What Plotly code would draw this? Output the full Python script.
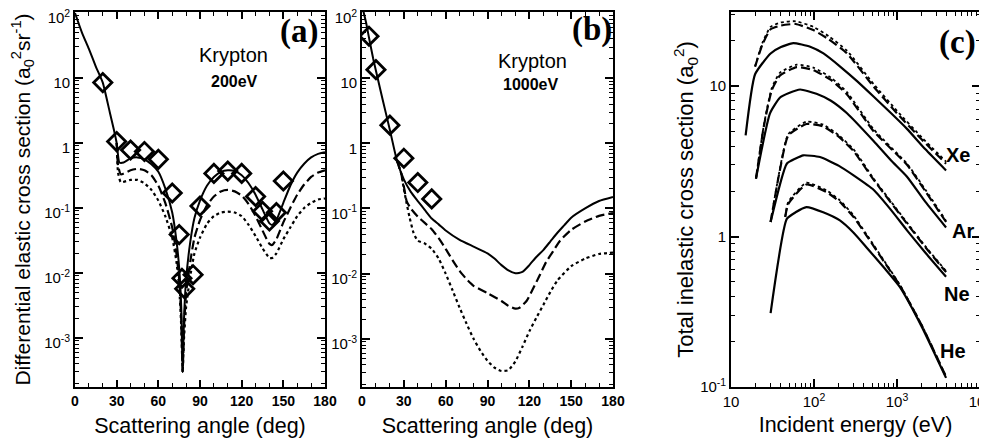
import plotly.graph_objects as go

# ---------------- Panel (a): Krypton, 200 eV ----------------
a_solid_ang = [0, 5, 10, 15, 20, 25, 28, 30, 32, 35, 40, 45, 50, 55, 60, 65, 70, 73, 75, 76.5, 77.5, 78.5, 80, 83, 86, 90, 95, 100, 105, 110, 115, 120, 125, 130, 135, 140, 142, 145, 150, 155, 160, 165, 170, 175, 180]
a_solid_val = [100, 50, 28, 15, 8.5, 3.0, 1.6, 1.0, 0.5, 0.5, 0.58, 0.6, 0.56, 0.47, 0.36, 0.2, 0.085, 0.032, 0.012, 0.003, 0.0003, 0.002, 0.008, 0.03, 0.07, 0.13, 0.22, 0.3, 0.36, 0.38, 0.37, 0.32, 0.24, 0.16, 0.095, 0.058, 0.055, 0.065, 0.12, 0.22, 0.35, 0.48, 0.6, 0.68, 0.72]

a_dash_ang = [30, 31, 33, 40, 45, 50, 55, 60, 65, 70, 73, 75, 76.5, 77.5, 78.5, 80, 83, 86, 90, 95, 100, 105, 110, 115, 120, 125, 130, 135, 140, 142, 145, 150, 155, 160, 165, 170, 175, 180]
a_dash_val = [1.0, 0.45, 0.33, 0.38, 0.4, 0.38, 0.32, 0.22, 0.12, 0.05, 0.02, 0.008, 0.002, 0.0003, 0.0015, 0.005, 0.015, 0.035, 0.065, 0.11, 0.15, 0.18, 0.19, 0.18, 0.155, 0.115, 0.075, 0.045, 0.028, 0.027, 0.033, 0.06, 0.1, 0.16, 0.23, 0.3, 0.35, 0.38]

a_dot_ang = [30, 31, 33, 40, 45, 50, 55, 60, 65, 70, 73, 75, 76.5, 77.5, 78.5, 80, 83, 86, 90, 95, 100, 105, 110, 115, 120, 125, 130, 135, 140, 142, 145, 150, 155, 160, 165, 170, 175, 180]
a_dot_val = [1.0, 0.35, 0.25, 0.27, 0.27, 0.24, 0.19, 0.13, 0.075, 0.035, 0.015, 0.006, 0.0015, 0.0003, 0.001, 0.003, 0.009, 0.02, 0.035, 0.057, 0.075, 0.085, 0.088, 0.085, 0.075, 0.055, 0.037, 0.024, 0.017, 0.017, 0.02, 0.033, 0.05, 0.075, 0.1, 0.12, 0.135, 0.14]

a_exp_ang = [20, 30, 40, 50, 60, 70, 75, 77, 79, 85, 90, 100, 110, 120, 130, 135, 140, 145, 150]
a_exp_val = [8.5, 1.05, 0.78, 0.74, 0.56, 0.17, 0.039, 0.0083, 0.0057, 0.0094, 0.107, 0.34, 0.37, 0.34, 0.15, 0.089, 0.063, 0.085, 0.26]

# ---------------- Panel (b): Krypton, 1000 eV ----------------
b_solid_ang = [0, 3, 5, 8, 10, 15, 20, 25, 30, 35, 40, 45, 50, 55, 60, 70, 80, 90, 95, 100, 105, 110, 115, 120, 125, 130, 135, 140, 145, 150, 160, 170, 180]
b_solid_val = [130, 70, 42, 20, 13, 4.5, 1.6, 0.55, 0.28, 0.18, 0.13, 0.095, 0.07, 0.057, 0.046, 0.033, 0.026, 0.0205, 0.017, 0.0135, 0.0112, 0.0101, 0.0106, 0.0135, 0.018, 0.023, 0.031, 0.042, 0.055, 0.072, 0.1, 0.13, 0.15]

b_dash_ang = [25, 28, 30, 32, 35, 40, 45, 50, 55, 60, 65, 70, 75, 80, 90, 100, 105, 110, 113, 118, 122, 127, 132, 137, 142, 150, 160, 170, 180]
b_dash_val = [0.55, 0.35, 0.22, 0.13, 0.1, 0.075, 0.06, 0.048, 0.035, 0.024, 0.016, 0.011, 0.0082, 0.0065, 0.005, 0.0038, 0.0032, 0.0029, 0.003, 0.0038, 0.0055, 0.009, 0.015, 0.022, 0.032, 0.047, 0.063, 0.077, 0.085]

b_dot_ang = [25, 28, 30, 32, 34, 37, 40, 45, 50, 55, 60, 65, 70, 75, 80, 85, 90, 95, 100, 105, 110, 115, 120, 125, 130, 135, 140, 150, 160, 170, 180]
b_dot_val = [0.55, 0.35, 0.2, 0.12, 0.075, 0.042, 0.032, 0.029, 0.024, 0.017, 0.01, 0.0055, 0.003, 0.0017, 0.001, 0.00065, 0.00046, 0.00036, 0.00032, 0.00033, 0.00045, 0.00075, 0.0013, 0.0021, 0.0033, 0.0052, 0.0078, 0.013, 0.017, 0.02, 0.021]

b_exp_ang = [5, 10, 20, 30, 40, 50]
b_exp_val = [44, 13.5, 1.9, 0.59, 0.25, 0.14]

# ---------------- Panel (c): total inelastic cross sections ----------------
xe_solid_E = [15, 19.5, 30, 40, 56, 90, 130, 210, 330, 525, 850, 1320, 2200, 3900]
xe_solid_v = [4.7, 12, 16.5, 18.2, 19.3, 18.3, 16.5, 13.4, 10.8, 8.5, 6.6, 5.2, 3.8, 2.75]
xe_dash_E = [19.5, 24, 30, 40, 60, 98, 150, 250, 525, 1000, 2000, 3900]
xe_dash_v = [13.5, 19, 23.9, 25.3, 25.9, 23.6, 20.5, 16.5, 9.9, 6.6, 4.4, 3.05]
xe_dot_v = [13.5, 19.5, 24.8, 26.5, 27, 24.8, 21.5, 17.2, 10.3, 6.85, 4.55, 3.15]

ar_solid_E = [20, 29.5, 39, 50, 68, 107, 160, 250, 525, 850, 1320, 2200, 3900]
ar_solid_v = [2.43, 6.6, 8.4, 9.0, 9.5, 8.9, 8.0, 6.6, 4.3, 3.2, 2.5, 1.7, 1.15]
ar_dash_E = [20, 25, 31, 39, 62, 98, 160, 250, 525, 1320, 2200, 3900]
ar_dash_v = [2.43, 5.5, 9.4, 11.8, 13.4, 12.8, 11.0, 8.8, 5.0, 3.0, 2.0, 1.25]
ar_dot_v = [2.43, 5.6, 9.7, 12.3, 13.9, 13.3, 11.4, 9.1, 5.15, 3.05, 2.05, 1.27]

ne_solid_E = [30, 47, 60, 74, 118, 200, 300, 525, 850, 1320, 2200, 3900]
ne_solid_v = [1.25, 3.05, 3.3, 3.47, 3.38, 2.95, 2.55, 2.04, 1.5, 1.1, 0.78, 0.54]
ne_dash_E = [30, 38, 49, 81, 129, 200, 300, 525, 1320, 2200, 3900]
ne_dash_v = [1.25, 2.6, 4.7, 5.6, 5.4, 4.6, 3.7, 2.38, 1.22, 0.85, 0.58]
ne_dot_v = [1.25, 2.65, 4.8, 5.8, 5.55, 4.7, 3.8, 2.42, 1.24, 0.86, 0.59]

he_solid_E = [30, 47, 60, 81, 129, 205, 300, 427, 700, 1090, 2000, 3900]
he_solid_v = [0.31, 1.31, 1.45, 1.57, 1.45, 1.28, 1.06, 0.85, 0.62, 0.46, 0.25, 0.115]
he_dash_E = [45, 49, 81, 141, 205, 300, 427, 700, 1090, 2000, 3900]
he_dash_v = [1.35, 1.65, 2.22, 1.98, 1.7, 1.35, 1.02, 0.68, 0.47, 0.255, 0.117]
he_dot_v = [1.35, 1.7, 2.28, 2.03, 1.74, 1.38, 1.04, 0.69, 0.475, 0.256, 0.117]

# tick labels
dec_vals = [1e-3, 1e-2, 1e-1, 1, 10, 100]
dec_text = ["10<sup>-3</sup>", "10<sup>-2</sup>", "10<sup>-1</sup>", "1", "10", "10<sup>2</sup>"]
ang_ticks = [0, 30, 60, 90, 120, 150, 180]
c_x_vals = [10, 100, 1000, 10000]
c_x_text = ["10", "10<sup>2</sup>", "10<sup>3</sup>", "10<sup>4</sup>"]
c_y_vals = [0.1, 1, 10]
c_y_text = ["10<sup>-1</sup>", "1", "10"]

SOLID = "solid"
DASH = "9px,4px"
DOT = "3px,3px"

fig = go.Figure()


def line(x, y, xa, ya, dash, width=2.0):
    fig.add_trace(go.Scatter(x=x, y=y, mode="lines", xaxis=xa, yaxis=ya,
                             line=dict(color="black", width=width, dash=dash,
                                       shape="spline", smoothing=0.5),
                             showlegend=False, hoverinfo="skip"))


def diamonds(x, y, xa, ya):
    fig.add_trace(go.Scatter(x=x, y=y, mode="markers", xaxis=xa, yaxis=ya,
                             marker=dict(symbol="diamond-open", size=14, color="black",
                                         line=dict(color="black", width=2.8)),
                             showlegend=False, hoverinfo="skip"))


line(a_solid_ang, a_solid_val, "x", "y", SOLID)
line(a_dash_ang, a_dash_val, "x", "y", DASH, 2.2)
line(a_dot_ang, a_dot_val, "x", "y", DOT, 2.2)
diamonds(a_exp_ang, a_exp_val, "x", "y")

line(b_solid_ang, b_solid_val, "x2", "y2", SOLID)
line(b_dash_ang, b_dash_val, "x2", "y2", DASH, 2.2)
line(b_dot_ang, b_dot_val, "x2", "y2", DOT, 2.2)
diamonds(b_exp_ang, b_exp_val, "x2", "y2")

for E, v in [(xe_solid_E, xe_solid_v), (ar_solid_E, ar_solid_v),
             (ne_solid_E, ne_solid_v), (he_solid_E, he_solid_v)]:
    line(E, v, "x3", "y3", SOLID, 2.2)
for E, v in [(xe_dash_E, xe_dash_v), (ar_dash_E, ar_dash_v),
             (ne_dash_E, ne_dash_v), (he_dash_E, he_dash_v)]:
    line(E, v, "x3", "y3", DASH, 2.2)
for E, v in [(xe_dash_E, xe_dot_v), (ar_dash_E, ar_dot_v),
             (ne_dash_E, ne_dot_v), (he_dash_E, he_dot_v)]:
    line(E, v, "x3", "y3", DOT, 1.8)

sans = "Liberation Sans, Arial, sans-serif"
serif = "Liberation Serif, Times New Roman, serif"
tickfont_b = dict(family=sans, size=14, color="black", weight="bold")
tickfont_r = dict(family=sans, size=15, color="black")
xtitlefont = dict(family=sans, size=21.5, color="black")
ytitlefont_a = dict(family=sans, size=21, color="black")
ytitlefont_c = dict(family=sans, size=22, color="black")

minor_log = [m * 10.0 ** e for e in range(-4, 5) for m in range(2, 10)]

common = dict(showline=True, linecolor="black", linewidth=1.6, mirror="ticks",
              ticks="inside", tickcolor="black", tickwidth=1.5, showgrid=False,
              zeroline=False, automargin=False, ticklabeloverflow="allow")

# page body offsets the plot by 8 px; figure is sized to fit the window
W, H, OFF = 979, 437, 8


def xdom(x1, x2):
    return [(x1 - OFF) / W, (x2 - OFF) / W]


ydom = [1 - (387 - OFF) / H, 1 - (12 - OFF) / H]

minor_lin = dict(dtick=10, ticks="inside", ticklen=4, tickcolor="black", tickwidth=1.2)
minor_lg = dict(tickmode="array", tickvals=minor_log, ticks="inside", ticklen=4,
                tickcolor="black", tickwidth=1.2)

fig.update_layout(
    width=W, height=H,
    margin=dict(l=0, r=0, t=0, b=0),
    paper_bgcolor="white", plot_bgcolor="white",
    xaxis=dict(domain=xdom(75, 325), range=[0, 180], anchor="y",
               tickmode="array", tickvals=ang_ticks, ticklen=7, tickfont=tickfont_b,
               minor=minor_lin,
               title=dict(text="Scattering angle (deg)", font=xtitlefont, standoff=10), **common),
    yaxis=dict(domain=ydom, type="log", range=[-3.754, 2.015], anchor="x",
               tickmode="array", tickvals=dec_vals, ticktext=dec_text, ticklen=8, tickfont=tickfont_r,
               minor=minor_lg, ticklabelshift=5,
               title=dict(text="Differential elastic cross section (a<sub>0</sub><sup>2</sup>sr<sup>-1</sup>)",
                          font=ytitlefont_a, standoff=16), **common),
    xaxis2=dict(domain=xdom(362, 613), range=[0, 180], anchor="y2",
                tickmode="array", tickvals=ang_ticks, ticklen=7, tickfont=tickfont_b,
                minor=minor_lin,
                title=dict(text="Scattering angle (deg)", font=xtitlefont, standoff=10), **common),
    yaxis2=dict(domain=ydom, type="log", range=[-3.74, 2.015], anchor="x2",
                tickmode="array", tickvals=dec_vals, ticktext=dec_text, ticklen=8, tickfont=tickfont_r,
                minor=minor_lg, ticklabelshift=5, **common),
    xaxis3=dict(domain=xdom(731, 980), type="log", range=[1, 4], anchor="y3",
                tickmode="array", tickvals=c_x_vals, ticktext=c_x_text, ticklen=8, tickfont=tickfont_r,
                minor=minor_lg,
                title=dict(text="Incident energy (eV)", font=xtitlefont, standoff=8), **common),
    yaxis3=dict(domain=ydom, type="log", range=[-1, 1.493], anchor="x3",
                tickmode="array", tickvals=c_y_vals, ticktext=c_y_text, ticklen=8, tickfont=tickfont_r,
                minor=minor_lg,
                title=dict(text="Total inelastic cross section (a<sub>0</sub><sup>2</sup>)",
                           font=ytitlefont_c, standoff=0), **common),
)

ann = []


def text(x, y, xr, yr, s, font):
    ann.append(dict(x=x, y=y, xref=xr, yref=yr, text=s, showarrow=False, font=font,
                    xanchor="center", yanchor="middle"))


lab_big = dict(family=serif, size=33, color="black", weight="bold")
lab_kr = dict(family=sans, size=20, color="black")
lab_en = dict(family=sans, size=16, color="black", weight="bold")
lab_el = dict(family=sans, size=20, color="black", weight="bold")

text(161, 1.71, "x", "y", "(a)", lab_big)
text(114, 1.35, "x", "y", "Krypton", lab_kr)
text(115, 0.94, "x", "y", "200eV", lab_en)

text(165, 1.74, "x2", "y2", "(b)", lab_big)
text(122, 1.26, "x2", "y2", "Krypton", lab_kr)
text(120.5, 0.9, "x2", "y2", "1000eV", lab_en)

text(3.73, 1.29, "x3", "y3", "(c)", lab_big)
text(3.73, 0.54, "x3", "y3", "Xe", lab_el)
text(3.8, 0.04, "x3", "y3", "Ar", lab_el)
text(3.72, -0.38, "x3", "y3", "Ne", lab_el)
text(3.67, -0.76, "x3", "y3", "He", lab_el)

fig.update_layout(annotations=ann)

fig.write_html("out.html")
